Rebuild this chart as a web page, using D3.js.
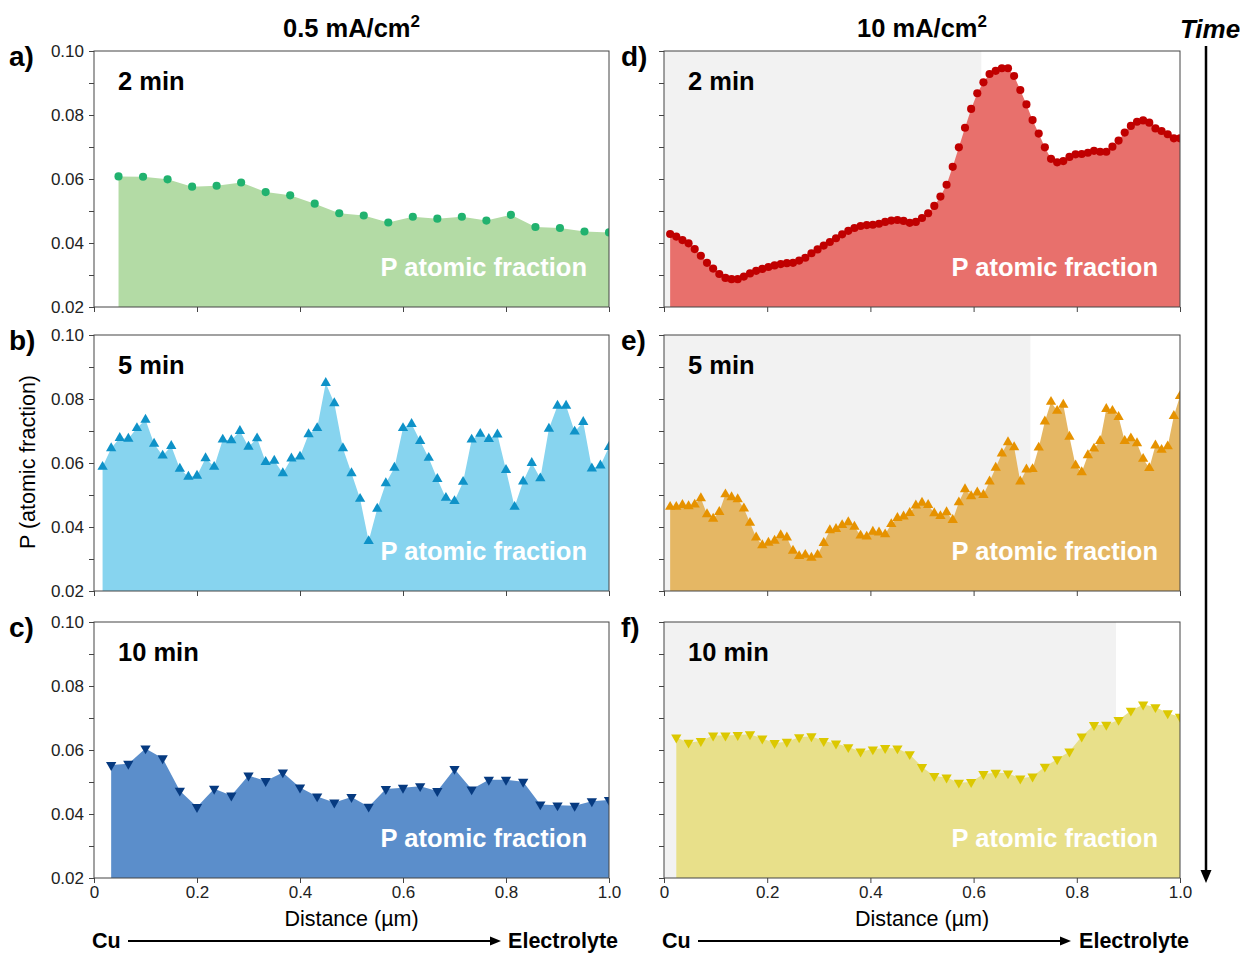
<!DOCTYPE html>
<html>
<head>
<meta charset="utf-8">
<script src="https://cdn.jsdelivr.net/npm/d3@7"></script>
<style>
  body { margin: 0; background: #fff; }
  svg { font-family: "Liberation Sans", Arial, sans-serif; }
</style>
</head>
<body>
<svg id="fig" width="1240" height="954"></svg>
<script>
// P atomic fraction profiles (equally spaced steps along 0..1 um)
const aVals = [0.0608, 0.0607, 0.0599, 0.0576, 0.0579, 0.0589, 0.0559, 0.0549, 0.0523, 0.0493,
  0.0486, 0.0464, 0.0482, 0.0476, 0.0482, 0.0470, 0.0488, 0.0450, 0.0447, 0.0436, 0.0433];
const bVals = [0.0588, 0.0646, 0.0678, 0.0676, 0.0709, 0.0735, 0.0660, 0.0623, 0.0653, 0.0582,
  0.0557, 0.0560, 0.0615, 0.0588, 0.0673, 0.0671, 0.0700, 0.0651, 0.0677, 0.0603,
  0.0607, 0.0568, 0.0614, 0.0620, 0.0690, 0.0709, 0.0850, 0.0787, 0.0646, 0.0568,
  0.0488, 0.0356, 0.0457, 0.0537, 0.0585, 0.0709, 0.0722, 0.0669, 0.0616, 0.0550,
  0.0491, 0.0481, 0.0541, 0.0673, 0.0691, 0.0675, 0.0689, 0.0578, 0.0463, 0.0542,
  0.0600, 0.0552, 0.0707, 0.0779, 0.0779, 0.0698, 0.0728, 0.0583, 0.0592, 0.0650];
const cVals = [0.0553, 0.0557, 0.0605, 0.0574, 0.0473, 0.0422, 0.0479, 0.0458, 0.0520, 0.0503,
  0.0530, 0.0483, 0.0455, 0.0436, 0.0453, 0.0423, 0.0478, 0.0482, 0.0487, 0.0472,
  0.0541, 0.0477, 0.0507, 0.0507, 0.0501, 0.0430, 0.0427, 0.0426, 0.0440, 0.0444];
const dVals = [0.0428, 0.0420, 0.0409, 0.0399, 0.0381, 0.0360, 0.0338, 0.0320, 0.0303, 0.0291,
  0.0287, 0.0287, 0.0295, 0.0305, 0.0313, 0.0319, 0.0325, 0.0330, 0.0334, 0.0337,
  0.0338, 0.0345, 0.0354, 0.0368, 0.0380, 0.0392, 0.0403, 0.0415, 0.0427, 0.0438,
  0.0447, 0.0453, 0.0456, 0.0457, 0.0460, 0.0466, 0.0470, 0.0472, 0.0469, 0.0463,
  0.0466, 0.0478, 0.0493, 0.0516, 0.0545, 0.0582, 0.0638, 0.0699, 0.0760, 0.0819,
  0.0868, 0.0902, 0.0928, 0.0938, 0.0946, 0.0946, 0.0922, 0.0878, 0.0833, 0.0784,
  0.0742, 0.0699, 0.0663, 0.0652, 0.0656, 0.0669, 0.0677, 0.0678, 0.0682, 0.0688,
  0.0685, 0.0685, 0.0701, 0.0720, 0.0745, 0.0766, 0.0779, 0.0783, 0.0776, 0.0758,
  0.0750, 0.0740, 0.0727, 0.0727];
const eVals = [0.0463, 0.0463, 0.0469, 0.0465, 0.0470, 0.0490, 0.0440, 0.0426, 0.0447, 0.0502,
  0.0493, 0.0487, 0.0458, 0.0413, 0.0367, 0.0343, 0.0351, 0.0357, 0.0374, 0.0367,
  0.0326, 0.0309, 0.0313, 0.0304, 0.0313, 0.0350, 0.0390, 0.0394, 0.0406, 0.0415,
  0.0401, 0.0373, 0.0370, 0.0385, 0.0383, 0.0377, 0.0409, 0.0428, 0.0433, 0.0444,
  0.0467, 0.0476, 0.0469, 0.0443, 0.0434, 0.0446, 0.0422, 0.0477, 0.0518, 0.0496,
  0.0508, 0.0500, 0.0542, 0.0585, 0.0630, 0.0665, 0.0649, 0.0542, 0.0580, 0.0581,
  0.0648, 0.0730, 0.0791, 0.0763, 0.0782, 0.0682, 0.0592, 0.0571, 0.0624, 0.0645,
  0.0669, 0.0769, 0.0763, 0.0744, 0.0669, 0.0677, 0.0662, 0.0613, 0.0584, 0.0655,
  0.0641, 0.0652, 0.0747, 0.0809];
const fVals = [0.0639, 0.0623, 0.0628, 0.0645, 0.0645, 0.0647, 0.0649, 0.0636, 0.0622, 0.0626,
  0.0640, 0.0643, 0.0628, 0.0620, 0.0609, 0.0595, 0.0602, 0.0606, 0.0605, 0.0587,
  0.0547, 0.0519, 0.0514, 0.0498, 0.0500, 0.0525, 0.0529, 0.0527, 0.0511, 0.0517,
  0.0548, 0.0571, 0.0595, 0.0642, 0.0678, 0.0679, 0.0694, 0.0723, 0.0742, 0.0734,
  0.0715, 0.0704];

const times = ["2 min", "5 min", "10 min"];
const letters = [["a)", "b)", "c)"], ["d)", "e)", "f)"]];
const currents = ["0.5 mA/cm", "10 mA/cm"];
const shadeEnd = [0.615, 0.71, 0.876];   // grey band in the 10 mA/cm2 column
const yTicks = [0.02, 0.03, 0.04, 0.05, 0.06, 0.07, 0.08, 0.09, 0.10];
const xTicks = [0, 0.2, 0.4, 0.6, 0.8, 1.0];

const series = [
  { col: 0, row: 0, vals: aVals, shape: "circle", fill: "#b3dba5", mark: "#21b26f" },
  { col: 0, row: 1, vals: bVals, shape: "up",     fill: "#87d4ef", mark: "#0e92c8" },
  { col: 0, row: 2, vals: cVals, shape: "down",   fill: "#5b8ecb", mark: "#063a80" },
  { col: 1, row: 0, vals: dVals, shape: "circle", fill: "#e8706c", mark: "#c00000" },
  { col: 1, row: 1, vals: eVals, shape: "up",     fill: "#e5b764", mark: "#e69200" },
  { col: 1, row: 2, vals: fVals, shape: "down",   fill: "#e8e08a", mark: "#dcc800" }
];

const colX = [[94, 609], [664, 1180]];
const rowY = [[51, 307], [335, 591], [622, 878]];

const svg = d3.select("#fig");
const defs = svg.append("defs");

series.forEach(function(s, k) {
  const x = d3.scaleLinear().domain([0, 1]).range(colX[s.col]);
  const y = d3.scaleLinear().domain([0.02, 0.10]).range([rowY[s.row][1], rowY[s.row][0]]);
  const n = s.vals.length;
  const pts = s.vals.map((v, i) => ({ x: (i + 1) / n, v: v }));
  const g = svg.append("g");

  defs.append("clipPath").attr("id", "clip" + k)
    .append("rect")
    .attr("x", x(0)).attr("y", y(0.10))
    .attr("width", x(1) - x(0)).attr("height", y(0.02) - y(0.10));

  const plot = g.append("g").attr("clip-path", "url(#clip" + k + ")");

  if (s.col == 1) {
    plot.append("rect")
      .attr("x", x(0)).attr("y", y(0.10))
      .attr("width", x(shadeEnd[s.row]) - x(0))
      .attr("height", y(0.02) - y(0.10))
      .attr("fill", "#f2f2f2");
  }

  const area = d3.area()
    .x(d => x(d.x))
    .y0(y(0.02))
    .y1(d => y(d.v));

  plot.append("path").datum(pts)
    .attr("d", area)
    .attr("fill", s.fill);

  var sym;
  if (s.shape == "circle") sym = d3.symbol().type(d3.symbolCircle).size(52);
  else sym = d3.symbol().type(d3.symbolTriangle).size(46);

  plot.selectAll(".m").data(pts).enter()
    .append("path")
    .attr("d", sym)
    .attr("transform", d => "translate(" + x(d.x) + "," + y(d.v) + ")" + (s.shape == "down" ? " rotate(180)" : ""))
    .attr("fill", s.mark);

  // text inside the panel
  g.append("text")
    .attr("x", x(1) - 22).attr("y", y(0.02) - 31)
    .attr("text-anchor", "end")
    .attr("font-size", 25.5).attr("font-weight", "bold")
    .attr("fill", "#fff")
    .text("P atomic fraction");

  g.append("text")
    .attr("x", x(0) + 24).attr("y", y(0.10) + 39)
    .attr("font-size", 25.5).attr("font-weight", "bold")
    .text(times[s.row]);

  g.append("text")
    .attr("x", s.col == 0 ? 9 : 621).attr("y", y(0.10) + 15)
    .attr("font-size", 28).attr("font-weight", "bold")
    .text(letters[s.col][s.row]);

  // axes
  const yAxis = d3.axisLeft(y).tickValues(yTicks).tickSize(5).tickPadding(5)
    .tickFormat(d => (s.col == 0 && Math.round(d * 100) % 2 == 0) ? d3.format(".2f")(d) : "");
  const gy = g.append("g").attr("transform", "translate(" + x(0) + ",0)").call(yAxis);

  const xAxis = d3.axisBottom(x).tickValues(xTicks).tickSize(5).tickPadding(3)
    .tickFormat(d => s.row == 2 ? (d == 0 ? "0" : d3.format(".1f")(d)) : "");
  const gx = g.append("g").attr("transform", "translate(0," + y(0.02) + ")").call(xAxis);

  [gx, gy].forEach(function(ax) {
    ax.select(".domain").remove();
    ax.selectAll("line").attr("stroke", "#444");
    ax.selectAll("text").attr("font-size", 17).attr("fill", "#222")
      .attr("font-family", "Liberation Sans, Arial, sans-serif");
  });

  g.append("rect")
    .attr("x", x(0)).attr("y", y(0.10))
    .attr("width", x(1) - x(0)).attr("height", y(0.02) - y(0.10))
    .attr("fill", "none").attr("stroke", "#444").attr("stroke-width", 1);
});

// column titles
currents.forEach(function(c, i) {
  const cx = (colX[i][0] + colX[i][1]) / 2;
  const t = svg.append("text")
    .attr("x", cx).attr("y", 37)
    .attr("text-anchor", "middle")
    .attr("font-size", 25.5).attr("font-weight", "bold")
    .text(c);
  t.append("tspan").attr("dy", -10).attr("font-size", 17).text("2");

  // axis title and Cu -> Electrolyte arrow
  svg.append("text")
    .attr("x", cx).attr("y", 926)
    .attr("text-anchor", "middle")
    .attr("font-size", 21.5)
    .text("Distance (\u00b5m)");

  svg.append("text")
    .attr("x", colX[i][0] - 2).attr("y", 948)
    .attr("font-size", 21.5).attr("font-weight", "bold")
    .text("Cu");
  svg.append("line")
    .attr("x1", colX[i][0] + 34).attr("x2", colX[i][0] + 398)
    .attr("y1", 941).attr("y2", 941)
    .attr("stroke", "#000").attr("stroke-width", 2);
  svg.append("path")
    .attr("d", d3.line()([[colX[i][0] + 396, 936.5], [colX[i][0] + 407, 941], [colX[i][0] + 396, 945.5]]) + "Z")
    .attr("fill", "#000");
  svg.append("text")
    .attr("x", colX[i][1] + 9).attr("y", 948)
    .attr("text-anchor", "end")
    .attr("font-size", 21.5).attr("font-weight", "bold")
    .text("Electrolyte");
});

svg.append("text")
  .attr("transform", "translate(35,462) rotate(-90)")
  .attr("text-anchor", "middle")
  .attr("font-size", 21.5)
  .text("P (atomic fraction)");

// Time arrow
svg.append("text")
  .attr("x", 1210).attr("y", 38)
  .attr("text-anchor", "middle")
  .attr("font-size", 26).attr("font-weight", "bold").attr("font-style", "italic")
  .text("Time");
svg.append("line")
  .attr("x1", 1206).attr("x2", 1206).attr("y1", 46).attr("y2", 872)
  .attr("stroke", "#000").attr("stroke-width", 2.5);
svg.append("path")
  .attr("d", "M1200.5,870L1206,883L1211.5,870Z")
  .attr("fill", "#000");
</script>
</body>
</html>
